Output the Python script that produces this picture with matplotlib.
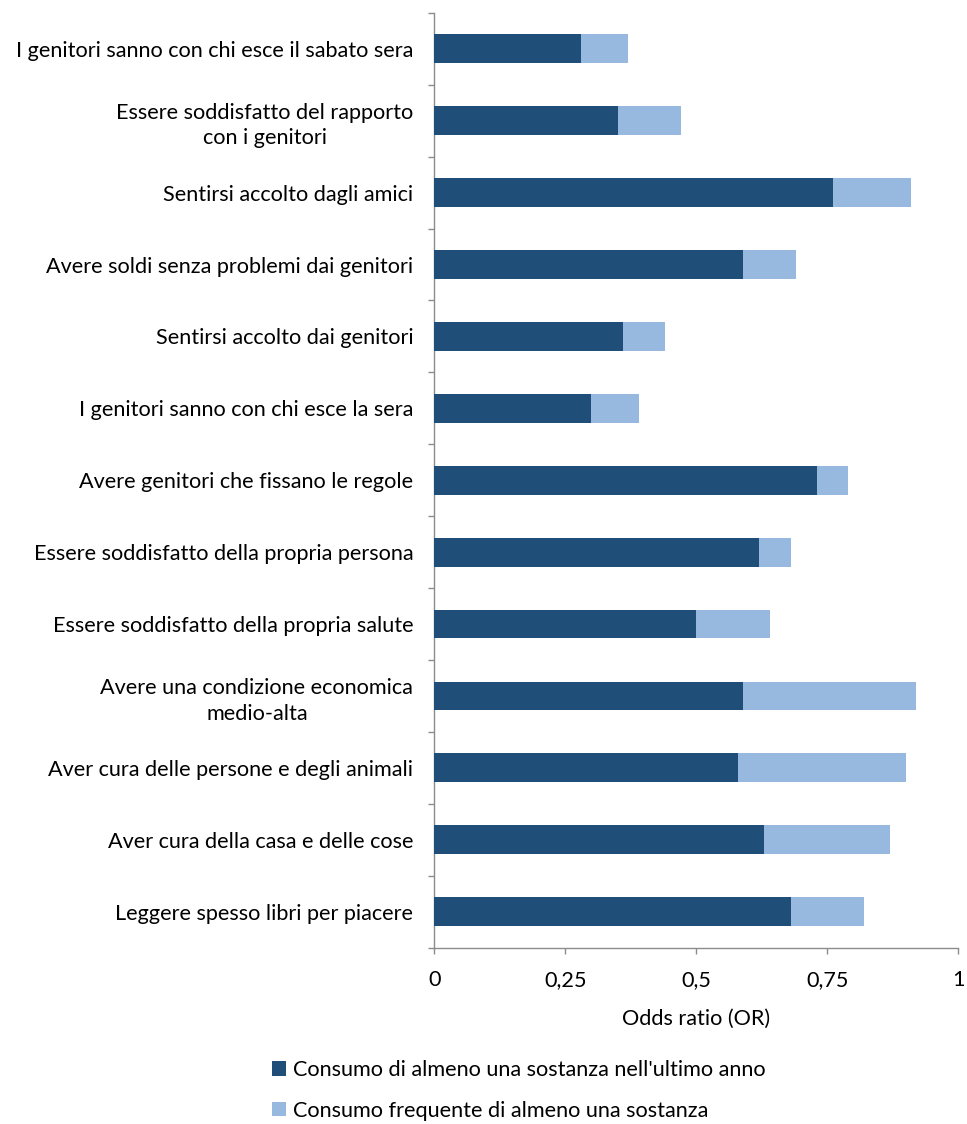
import matplotlib
matplotlib.use("Agg")
import matplotlib.pyplot as plt
import matplotlib.ticker as mticker
import numpy as np

# categories from top to bottom
categories = [
    "I genitori sanno con chi esce il sabato sera",
    "Essere soddisfatto del rapporto\ncon i genitori",
    "Sentirsi accolto dagli amici",
    "Avere soldi senza problemi dai genitori",
    "Sentirsi accolto dai genitori",
    "I genitori sanno con chi esce la sera",
    "Avere genitori che fissano le regole",
    "Essere soddisfatto della propria persona",
    "Essere soddisfatto della propria salute",
    "Avere una condizione economica\nmedio-alta",
    "Aver cura delle persone e degli animali",
    "Aver cura della casa e delle cose",
    "Leggere spesso libri per piacere",
]
or_anno = [0.28, 0.35, 0.76, 0.59, 0.36, 0.30, 0.73, 0.62, 0.50, 0.59, 0.58, 0.63, 0.68]
or_frequente = [0.37, 0.47, 0.91, 0.69, 0.44, 0.39, 0.79, 0.68, 0.64, 0.92, 0.90, 0.87, 0.82]
series_names = ["Consumo di almeno una sostanza nell'ultimo anno",
                "Consumo frequente di almeno una sostanza"]
xticks = [0, 0.25, 0.5, 0.75, 1]
xtick_labels = ["0", "0,25", "0,5", "0,75", "1"]

plt.rcParams['font.family'] = ['Lato', 'DejaVu Sans']
fs = 15.6
dark = "#1F4E79"
light = "#97B9E0"
grey = "#8C8C8C"

fig = plt.figure(figsize=(9.67, 11.24), dpi=100)
ax = fig.add_axes([0.449, 0.157, 0.542, 0.8315])

n = len(categories)
y = np.arange(n)[::-1]
b2 = ax.barh(y, or_frequente, height=0.4, color=light, zorder=2)
b1 = ax.barh(y, or_anno, height=0.4, color=dark, zorder=3)

ax.set_xlim(0, 1)
ax.set_ylim(-0.5, n - 0.5)
ax.set_xticks(xticks)
ax.set_xticklabels(xtick_labels, fontsize=fs)
ax.set_yticks(y)
ax.set_yticklabels(categories, fontsize=fs, ha="right", multialignment="center",
                   linespacing=1.35)
ax.yaxis.set_minor_locator(mticker.FixedLocator(np.arange(-0.5, n, 1)))
ax.tick_params(axis="y", which="major", length=0, pad=15)
ax.tick_params(axis="y", which="minor", length=4.5, color=grey, width=1)
ax.tick_params(axis="x", which="major", length=4.5, color=grey, width=1, pad=12)

for side in ["top", "right"]:
    ax.spines[side].set_visible(False)
for side in ["left", "bottom"]:
    ax.spines[side].set_color(grey)
    ax.spines[side].set_linewidth(1)

ax.set_xlabel("Odds ratio (OR)", fontsize=fs, labelpad=13)

fig.legend([b1, b2], series_names, loc="upper left", bbox_to_anchor=(0.272, 0.0645),
           frameon=False, fontsize=fs, handlelength=0.65, handleheight=0.65,
           handletextpad=0.35, labelspacing=0.95, borderaxespad=0)

plt.savefig("out.png", dpi=100)
